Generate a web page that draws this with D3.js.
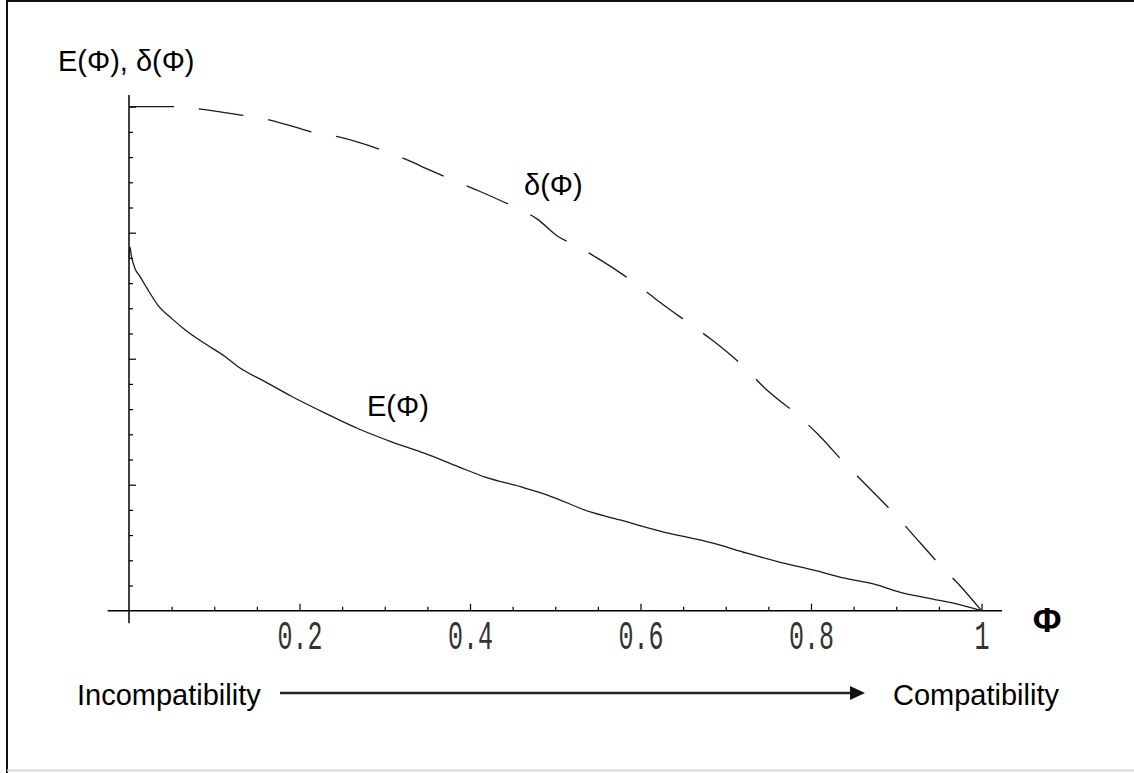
<!DOCTYPE html>
<html>
<head>
<meta charset="utf-8">
<script src="https://cdn.jsdelivr.net/npm/d3@7"></script>
<style>
  body { margin: 0; background: #fff; }
  svg { display: block; }
  .lbl { font-family: "Liberation Sans", Arial, sans-serif; font-size: 29px; fill: #000; }
  .tick-lbl { font-family: "Liberation Mono", "Courier New", monospace; font-size: 25px; fill: #333; }
</style>
</head>
<body>
<div id="chart"></div>
<script>
// Phi values and curve readings
const ePhi = [0, 0.001, 0.003, 0.007, 0.013, 0.021, 0.034, 0.050, 0.066, 0.089, 0.113, 0.128, 0.160,
  0.191, 0.230, 0.269, 0.308, 0.347, 0.386, 0.418, 0.459, 0.490, 0.541, 0.576, 0.623, 0.685,
  0.725, 0.764, 0.807, 0.838, 0.873, 0.904, 0.943, 0.967, 1.0];
const eVal = [0.70, 0.722, 0.702, 0.679, 0.663, 0.640, 0.606, 0.580, 0.557, 0.530, 0.504, 0.484, 0.454,
  0.425, 0.392, 0.361, 0.335, 0.312, 0.286, 0.265, 0.246, 0.230, 0.196, 0.180, 0.158, 0.134,
  0.114, 0.096, 0.079, 0.065, 0.053, 0.037, 0.023, 0.015, 0];

const dPhi = [0, 0.055, 0.084, 0.136, 0.164, 0.217, 0.246, 0.298, 0.327, 0.353, 0.375, 0.406, 0.453,
  0.479, 0.502, 0.522, 0.549, 0.591, 0.618, 0.657, 0.684, 0.723, 0.745, 0.785, 0.807, 0.842,
  0.865, 0.900, 0.919, 0.954, 0.974, 1.0];
const dVal = [1.0, 1.0, 0.995, 0.982, 0.974, 0.949, 0.940, 0.913, 0.894, 0.874, 0.858, 0.836, 0.800,
  0.777, 0.744, 0.726, 0.700, 0.653, 0.618, 0.570, 0.537, 0.481, 0.443, 0.387, 0.352, 0.288,
  0.249, 0.188, 0.152, 0.086, 0.051, 0];

const xMajor = [0.2, 0.4, 0.6, 0.8, 1];
const xMajorLabels = ["0.2", "0.4", "0.6", "0.8", "1"];
const xMinor = d3.range(1, 21).map(i => i * 0.05).filter(v => Math.abs(v * 5 - Math.round(v * 5)) > 1e-6);
const yMajor = [0.25, 0.5, 0.75, 1.0];
const yMinor = d3.range(1, 20).map(i => i * 0.05).filter(v => Math.abs(v * 4 - Math.round(v * 4)) > 1e-6);

const W = 1134, H = 773;
const labelStretch = 1.6;

const svg = d3.select("#chart").append("svg")
    .attr("width", W)
    .attr("height", H);

svg.append("rect").attr("width", W).attr("height", H).attr("fill", "#fff");

// frame
svg.append("line").attr("x1", 6).attr("x2", W).attr("y1", 1).attr("y2", 1)
    .attr("stroke", "#111").attr("stroke-width", 2);
svg.append("line").attr("x1", 7).attr("x2", 7).attr("y1", 0).attr("y2", H)
    .attr("stroke", "#111").attr("stroke-width", 2);
svg.append("line").attr("x1", 7).attr("x2", W).attr("y1", H - 2.5).attr("y2", H - 2.5)
    .attr("stroke", "#d8d8d8").attr("stroke-width", 2);

const x = d3.scaleLinear().domain([0, 1]).range([129, 981.5]);
const y = d3.scaleLinear().domain([0, 1]).range([610.7, 106.7]);

// axis lines (Mathematica style, crossing at origin with small overhang)
svg.append("line")
    .attr("x1", x(-0.025)).attr("x2", x(1.024))
    .attr("y1", y(0)).attr("y2", y(0))
    .attr("stroke", "#000").attr("stroke-width", 1.5);
svg.append("line")
    .attr("x1", x(0)).attr("x2", x(0))
    .attr("y1", y(-0.025)).attr("y2", y(1.023))
    .attr("stroke", "#000").attr("stroke-width", 1.5);

// x ticks
const xMinorAxis = svg.append("g")
    .attr("transform", `translate(0,${y(0)})`)
    .call(d3.axisBottom(x).tickValues(xMinor).tickSize(-4).tickFormat(""));
const xMajorAxis = svg.append("g")
    .attr("transform", `translate(0,${y(0)})`)
    .call(d3.axisBottom(x).tickValues(xMajor).tickSize(-7)
        .tickFormat((d, i) => xMajorLabels[i]));

// y ticks
const yMinorAxis = svg.append("g")
    .attr("transform", `translate(${x(0)},0)`)
    .call(d3.axisLeft(y).tickValues(yMinor).tickSize(-4).tickFormat(""));
const yMajorAxis = svg.append("g")
    .attr("transform", `translate(${x(0)},0)`)
    .call(d3.axisLeft(y).tickValues(yMajor).tickSize(-7).tickFormat(""));

[xMinorAxis, xMajorAxis, yMinorAxis, yMajorAxis].forEach(g => {
    g.select(".domain").remove();
    g.selectAll(".tick line").attr("stroke", "#000").attr("stroke-width", 1.2);
});

// tall thin monospace tick labels
xMajorAxis.selectAll(".tick text")
    .attr("class", "tick-lbl")
    .attr("font-family", null)
    .attr("font-size", null)
    .attr("fill", null)
    .attr("dy", null)
    .attr("y", 38.5 / labelStretch)
    .attr("transform", `scale(1,${labelStretch})`);

const line = d3.line()
    .x(d => x(d[0]))
    .y(d => y(d[1]))
    .curve(d3.curveMonotoneX);

svg.append("path")
    .datum(dPhi.map((p, i) => [p, dVal[i]]))
    .attr("d", line)
    .attr("fill", "none")
    .attr("stroke", "#1a1a1a")
    .attr("stroke-width", 1.3)
    .attr("stroke-dasharray", "45,25");

svg.append("path")
    .datum(ePhi.map((p, i) => [p, eVal[i]]))
    .attr("d", line)
    .attr("fill", "none")
    .attr("stroke", "#1a1a1a")
    .attr("stroke-width", 1.3);

// labels
svg.append("text").attr("class", "lbl").attr("x", 58).attr("y", 71).text("E(Φ), δ(Φ)");
svg.append("text").attr("class", "lbl").attr("x", 524).attr("y", 195).text("δ(Φ)");
svg.append("text").attr("class", "lbl").attr("x", 367).attr("y", 416).text("E(Φ)");
svg.append("text").attr("class", "lbl")
    .attr("x", 1047).attr("y", 632)
    .attr("text-anchor", "middle")
    .style("font-size", "35px")
    .style("font-weight", "bold")
    .text("Φ");

// Incompatibility -> Compatibility arrow
const arrowY = 693;
svg.append("text").attr("class", "lbl").attr("x", 77).attr("y", 705).text("Incompatibility");
svg.append("text").attr("class", "lbl").attr("x", 893).attr("y", 705).text("Compatibility");
svg.append("line")
    .attr("x1", 280).attr("x2", 852)
    .attr("y1", arrowY).attr("y2", arrowY)
    .attr("stroke", "#222").attr("stroke-width", 2.5);
svg.append("path")
    .attr("d", `M850,${arrowY - 7}L865,${arrowY}L850,${arrowY + 7}Z`)
    .attr("fill", "#111");
</script>
</body>
</html>
